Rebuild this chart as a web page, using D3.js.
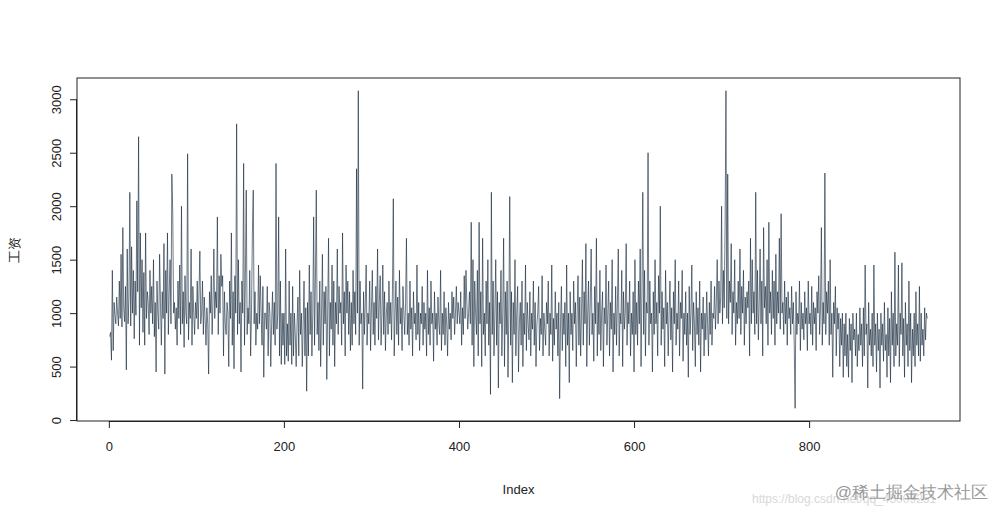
<!DOCTYPE html>
<html>
<head>
<meta charset="utf-8">
<script src="https://cdn.jsdelivr.net/npm/d3@7"></script>
<style>
  body { margin: 0; background: #fff; }
  text { font-family: "Liberation Sans", Arial, sans-serif; }
</style>
</head>
<body>
<svg id="chart" width="1000" height="519"></svg>
<script>
// wage series (index 1..935)
var wages = [
  780,820,560,1400,650,1100,980,900,1150,1000,880,1300,950,1550,870,1800,1050,920,1250,470,
  1600,900,1150,2130,880,1620,1000,1400,760,1300,980,2050,1200,2650,700,1750,1050,1500,820,1380,
  700,1750,950,1200,1100,800,1400,1000,1250,900,1500,780,1100,450,1300,1000,850,1550,1100,700,
  1200,950,1650,430,1400,1000,1750,800,1200,1500,900,2300,1950,1000,1100,850,1050,700,1300,950,
  1450,800,2000,900,1200,680,1350,1000,900,2490,750,1100,950,1600,700,1250,1000,800,1100,950,
  1300,850,1200,1580,900,1000,1300,800,1150,950,700,1050,900,430,1200,1000,1350,800,1100,1600,
  950,1200,1050,1900,800,1350,1000,1550,1250,1350,600,1200,900,800,1100,1000,500,1300,950,1750,
  700,1200,480,1350,1000,2770,800,1500,900,1100,450,1300,1000,2400,700,1350,2150,800,1050,900,
  1400,600,1000,1750,2150,900,1200,700,1000,850,1450,900,1350,1000,700,1250,400,1000,1000,850,
  1250,600,1100,1000,500,900,1200,800,1100,700,2400,850,1000,1900,600,1300,520,1000,700,1000,
  520,1600,600,900,550,1300,700,1000,520,1250,600,1000,800,500,900,1150,600,1400,800,1000,
  500,900,1300,600,1050,270,1100,600,1450,800,1200,600,1000,1900,700,1300,2150,800,1100,650,
  1300,500,1000,1550,700,1200,900,1250,380,1000,1700,600,1100,850,1450,700,1300,500,1100,900,
  1600,800,1250,1000,1100,700,1750,900,1200,600,1450,1000,1300,800,1200,650,1100,700,1400,900,
  1200,800,2350,1000,3080,700,1300,900,1000,290,1200,800,1100,1450,700,1000,900,1300,650,1050,
  1400,800,1100,700,1250,950,1600,750,1100,1350,700,1000,1450,800,1200,650,1000,1100,800,1300,
  900,1100,750,1200,2070,600,1000,1300,800,1150,700,1400,900,1050,650,1250,1000,800,1100,1700,
  800,1000,700,1300,850,1050,600,1200,900,1000,750,1450,800,1100,650,1000,900,1250,700,1100,
  850,1000,600,1400,800,1050,700,1300,900,1000,550,1200,850,1000,700,1150,900,800,1400,650,
  1000,800,1200,700,1050,900,600,1100,850,1000,750,1200,950,1150,800,1000,1250,900,1100,1000,
  900,1200,700,1050,800,1350,950,1400,1100,850,1000,1200,900,1850,700,1500,500,1300,1000,800,
  1400,600,1850,900,1200,500,1700,800,1000,600,1300,900,1500,700,1100,240,2130,800,1300,600,
  1000,1500,700,1200,300,1100,900,1400,600,1000,1700,500,1200,800,1300,400,1000,2090,700,1200,
  350,1100,800,1500,600,1000,1250,450,900,1100,700,1300,500,1000,800,1450,650,1100,900,750,
  1200,600,1000,850,1300,700,1100,500,900,1000,1250,650,950,800,1350,600,1000,850,700,1100,
  900,1300,600,1000,800,1450,550,950,700,1200,850,1000,600,1100,200,900,1250,650,1000,800,
  1100,500,1450,700,1000,350,1200,800,1000,650,1300,900,1100,500,1000,1350,700,1150,600,1000,
  1500,700,1200,900,1650,500,1000,1300,700,1100,1600,800,1000,550,1250,900,1700,600,1100,800,
  1400,650,1000,1200,500,1050,900,1450,700,1000,1300,600,1100,850,1500,450,1000,800,1250,700,
  1100,1600,600,1000,900,1400,500,1200,850,1000,1650,700,1100,900,1300,600,1000,800,1200,450,
  1500,800,1100,700,1300,900,1600,500,1200,2130,800,1400,600,1100,1000,2500,700,1300,900,1000,
  450,1200,800,1500,900,1100,600,1350,1000,2000,700,1200,850,1050,500,1400,900,1100,600,1000,
  1300,750,1050,450,1200,900,1500,700,1000,850,1300,600,1100,950,1400,550,1000,800,1200,700,
  1000,400,1250,800,1000,1450,650,1100,900,500,1200,800,1050,700,1300,450,1000,850,1150,600,
  1000,750,1200,900,600,1100,800,1300,700,1000,950,1250,850,1100,1500,900,1300,1000,1150,2000,
  900,1400,1050,1800,3080,950,2300,900,1300,1100,1650,800,1200,1000,1500,700,1100,900,1300,950,
  1600,800,1250,1000,1400,700,1150,900,1200,1050,1300,600,1700,900,1500,1000,1200,800,2130,900,
  1400,750,1100,1600,900,1300,600,1800,1050,1250,900,1500,700,1850,1000,1200,800,1400,950,1300,
  700,1550,900,1200,1000,1700,850,1930,1000,1100,800,1300,900,1150,700,1200,950,1050,800,1250,
  900,1100,700,110,1200,800,1000,900,1300,650,1100,850,1000,750,1200,900,1050,650,1300,900,
  1000,800,1250,700,1100,900,1050,650,1200,1000,1350,800,1050,1800,700,1100,900,2310,800,1200,
  1000,1300,700,1500,800,1000,400,1100,900,1250,600,1050,850,1000,500,950,700,1000,400,900,
  600,1000,500,800,400,950,650,900,350,1000,750,850,600,1000,500,800,650,1050,700,900,
  500,1050,600,1450,800,900,300,1100,700,850,600,1000,500,1450,700,900,450,1000,650,850,
  300,1000,700,900,550,1100,650,800,400,1050,600,950,350,1200,700,1000,500,1570,600,900,
  700,1450,500,1000,800,1470,600,950,400,1100,700,900,500,1300,650,1000,350,850,600,1000,
  500,1200,700,900,600,1250,550,1000,700,850,600,1050,750,1000,950
];
var xTicks = [0, 200, 400, 600, 800];
var yTicks = [0, 500, 1000, 1500, 2000, 2500, 3000];

var svg = d3.select("#chart");
var padLeft = 77, padRight = 960, padTop = 78, padBottom = 421;

// R style 4% padding around the data range
var n = wages.length;
var xPad = (n - 1) * 0.04;
var x = d3.scaleLinear().domain([1 - xPad, n + xPad]).range([padLeft, padRight]);
var yMin = d3.min(wages), yMax = d3.max(wages), yPad = (yMax - yMin) * 0.04;
var y = d3.scaleLinear().domain([yMin - yPad, yMax + yPad]).range([padBottom, padTop]);

var line = d3.line()
    .x(function(d, i) { return x(i + 1); })
    .y(function(d) { return y(d); });

svg.append("path")
    .datum(wages)
    .attr("d", line)
    .attr("fill", "none")
    .attr("stroke", "#0d2236")
    .attr("stroke-width", 0.6);

// plot box
svg.append("rect")
    .attr("x", padLeft).attr("y", padTop)
    .attr("width", padRight - padLeft).attr("height", padBottom - padTop)
    .attr("fill", "none").attr("stroke", "#222").attr("stroke-width", 1);

// x axis
var xAxis = svg.append("g")
    .attr("transform", "translate(0," + padBottom + ")")
    .call(d3.axisBottom(x).tickValues(xTicks).tickFormat(d3.format("d")).tickSize(7).tickPadding(14));
xAxis.select(".domain").attr("d", "M" + x(0) + ",0.5H" + x(800));

// y axis
var yAxis = svg.append("g")
    .attr("transform", "translate(" + padLeft + ",0)")
    .call(d3.axisLeft(y).tickValues(yTicks).tickFormat(d3.format("d")).tickSize(7));
yAxis.select(".domain").attr("d", "M-0.5," + y(0) + "V" + y(3000));
yAxis.selectAll(".tick text")
    .attr("transform", "rotate(-90)")
    .attr("x", 0).attr("y", -16)
    .attr("dy", 0)
    .style("text-anchor", "middle");

svg.selectAll(".tick text").attr("font-size", 13).attr("fill", "#222")
    .attr("font-family", "'Liberation Sans', Arial, sans-serif");
svg.selectAll(".tick line, .domain").attr("stroke", "#222");

svg.append("text")
    .attr("x", (padLeft + padRight) / 2).attr("y", 494)
    .attr("text-anchor", "middle").attr("font-size", 13).attr("fill", "#222")
    .text("Index");

svg.append("text")
    .attr("transform", "translate(19," + ((padTop + padBottom) / 2) + ") rotate(-90)")
    .attr("text-anchor", "middle").attr("font-size", 13).attr("fill", "#222")
    .attr("font-family", "'Noto Sans CJK SC', sans-serif")
    .text("工资");

// watermarks
svg.append("text")
    .attr("x", 752).attr("y", 503)
    .attr("font-size", 12).attr("fill", "#d8d8d8")
    .text("https://blog.csdn.net/qq_45009251");
svg.append("text")
    .attr("x", 988).attr("y", 498)
    .attr("text-anchor", "end").attr("font-size", 17).attr("fill", "#9a9a9a")
    .attr("font-family", "'Noto Sans CJK SC', sans-serif")
    .text("@稀土掘金技术社区");
</script>
</body>
</html>
